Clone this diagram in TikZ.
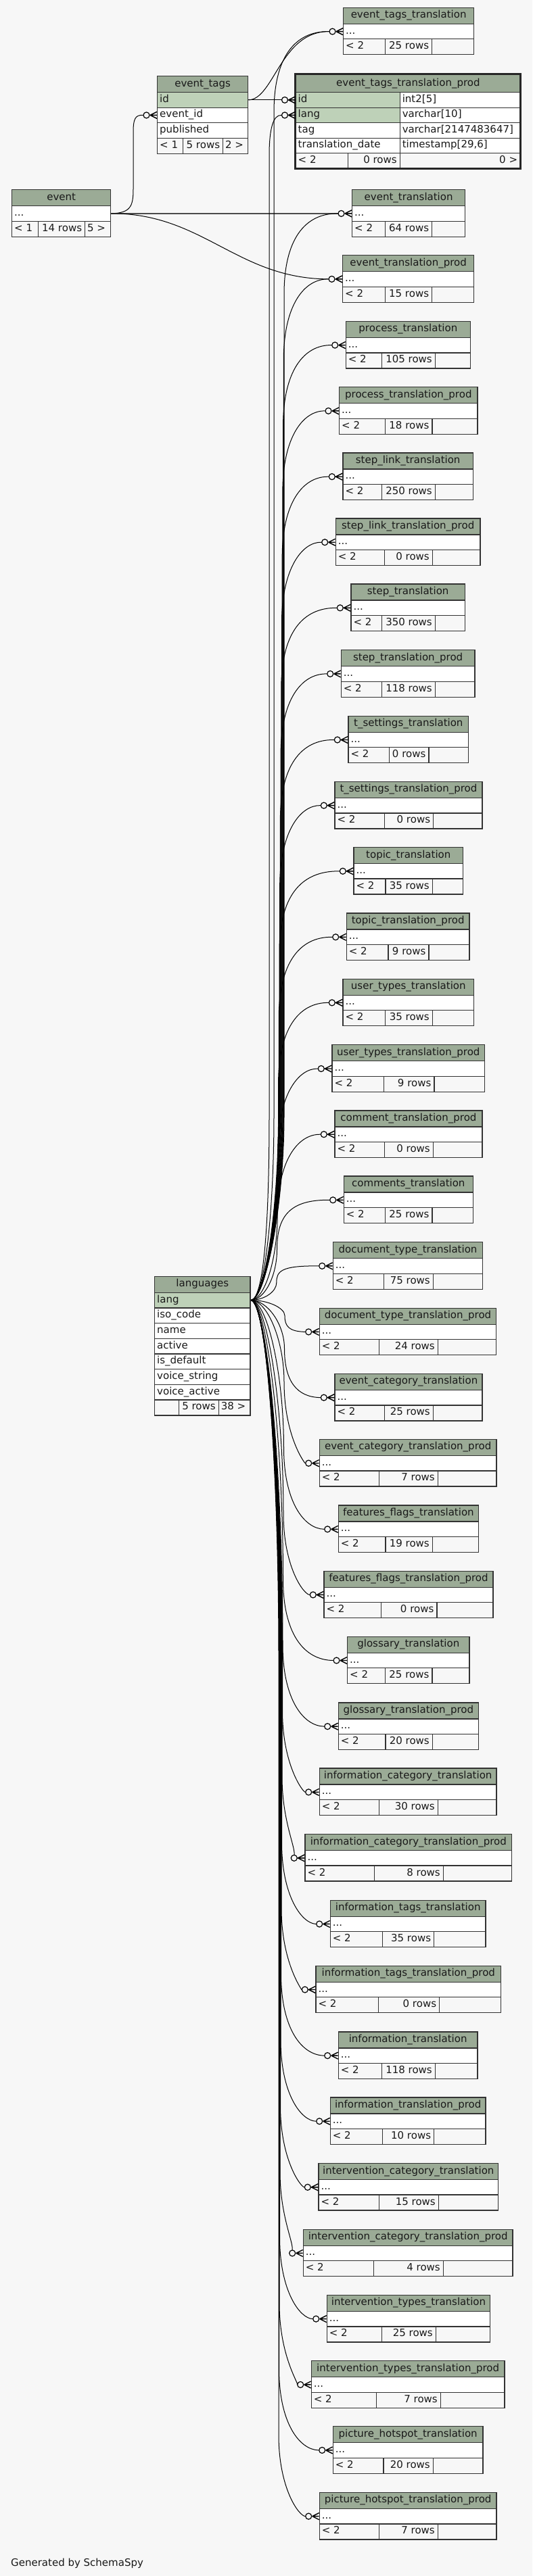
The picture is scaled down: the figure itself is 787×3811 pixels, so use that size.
\documentclass[tikz,border=0pt]{standalone}
\usepackage{fontspec}
\setmainfont{DejaVu Sans}
\usetikzlibrary{calc}
\definecolor{bgc}{HTML}{F7F7F7}
\definecolor{hdrc}{HTML}{9BAB96}
\definecolor{keyc}{HTML}{BED1B8}
\definecolor{bord}{HTML}{333333}
\pgfdeclarelayer{bgl}\pgfdeclarelayer{edges}
\pgfsetlayers{bgl,edges,main}
\newcommand{\tabfont}{\fontsize{15pt}{18pt}\selectfont}
\tikzset{
 cellbase/.style={draw=bord, line width=1.3pt, inner sep=0pt, anchor=north west},
 hdr/.style={cellbase, fill=hdrc, minimum height=24pt, font=\tabfont, text height=10.5pt, text depth=3.5pt, text=black!90},
 rowc/.style={cellbase, fill=white, minimum height=22.5pt},
 keyrow/.style={cellbase, fill=keyc, minimum height=22.5pt},
 ftc/.style={cellbase, fill=bgc, minimum height=23pt},
 txt/.style={inner sep=0pt, text height=10.5pt, text depth=3.5pt, font=\tabfont, text=black!90},
 ltxt/.style={txt, anchor=west, xshift=4pt},
 rtxt/.style={txt, anchor=east, xshift=-5pt},
 rel/.style={draw=black, line width=1pt},
 relg/.style={draw=black!70, line width=1.6pt},
 crowl/.style={draw=black, line width=1.4pt},
}
\newcommand{\crow}[1]{%
 \draw[crowl] ([xshift=-10pt]#1) -- ([yshift=5pt]#1)
   ([xshift=-10pt]#1) -- (#1)
   ([xshift=-10pt]#1) -- ([yshift=-5pt]#1);
 \draw[crowl, line width=1.2pt, fill=bgc] ([xshift=-15.5pt]#1) circle[radius=4.5pt];
}
\newcommand{\ttab}[8]{%
 \pgfmathsetmacro\qW{#3-#2}%
 \pgfmathsetmacro\qWa{#6-#2}%
 \pgfmathsetmacro\qWb{#7-#6}%
 \pgfmathsetmacro\qWc{#3-#7}%
 \pgfmathsetmacro\qYr{#4+24}%
 \pgfmathsetmacro\qYf{#4+46.5}%
 \node[hdr, minimum width=\qW pt] (#1h) at (#2,#4) {#5};
 \node[rowc, minimum width=\qW pt] (#1r) at (#2,\qYr) {};
 \node[ltxt] (#1rt) at (#1r.west) {...};
 \node[ftc, minimum width=\qWa pt] (#1fa) at (#2,\qYf) {};
 \node[ftc, minimum width=\qWb pt] (#1fb) at (#6,\qYf) {};
 \node[ftc, minimum width=\qWc pt] (#1fc) at (#7,\qYf) {};
 \node[ltxt] (#1fat) at (#1fa.west) {< 2};
 \node[rtxt] (#1fbt) at (#1fb.east) {#8};
 \crow{#1r.west}%
}
\newcommand{\upedge}[3]{%
 \pgfmathsetmacro\qYc{#3+35.25}%
 \pgfmathsetmacro\qDd{min(120,0.5*(1923-\qYc))}%
 \pgfmathsetmacro\qYa{\qYc+\qDd}%
 \pgfmathsetmacro\qYb{\qYc+\qDd/3}%
 \pgfmathsetmacro\qYm{max(1650,\qYa)}%
 \pgfmathsetmacro\qYn{1923-0.5*(1923-\qYm)}%
 \pgfmathsetmacro\qXb{#2+0.25*\qDd}%
 \draw[rel] (L.east) .. controls (392,1923) and (#2,\qYn) .. (#2,\qYm) -- (#2,\qYa) .. controls (#2,\qYb) and (\qXb,\qYc) .. ([xshift=-20.5pt]#1.west);%
}
\newcommand{\downedge}[3]{%
 \pgfmathsetmacro\qYc{#3+35.25}%
 \pgfmathsetmacro\qDd{min(120,0.5*(\qYc-1923))}%
 \pgfmathsetmacro\qYa{\qYc-\qDd}%
 \pgfmathsetmacro\qYb{\qYc-\qDd/3}%
 \pgfmathsetmacro\qYm{min(2450,\qYa)}%
 \pgfmathsetmacro\qYn{1923+0.5*(\qYm-1923)}%
 \pgfmathsetmacro\qXb{#2+0.25*\qDd}%
 \draw[rel] (L.east) .. controls (395,1923) and (#2,\qYn) .. (#2,\qYm) -- (#2,\qYa) .. controls (#2,\qYb) and (\qXb,\qYc) .. ([xshift=-20.5pt]#1.west);%
}
\begin{document}
\begin{tikzpicture}[x=1pt,y=-1pt]
\useasboundingbox (0,0) rectangle (787,3811);
\begin{pgfonlayer}{bgl}
\fill[bgc] (0,0) rectangle (787,3811);
\end{pgfonlayer}

% ---------- event ----------
\node[hdr, minimum width=146pt] (evh) at (17,280) {event};
\node[rowc, minimum width=146pt] (evr) at (17,304) {};
\node[ltxt] (evrt) at (evr.west) {...};
\node[ftc, minimum width=39pt] (evfa) at (17,326.5) {};
\node[ftc, minimum width=69pt] (evfb) at (56,326.5) {};
\node[ftc, minimum width=38pt] (evfc) at (125,326.5) {};
\node[ltxt] (evfat) at (evfa.west) {< 1};
\node[rtxt] (evfbt) at (evfb.east) {14 rows};
\node[ltxt] (evfct) at (evfc.west) {5 >};

% ---------- event_tags ----------
\node[hdr, minimum width=134pt] (eth) at (232,112) {event\_tags};
\node[keyrow, minimum width=134pt] (etid) at (232,136) {};
\node[ltxt] (etidt) at (etid.west) {id};
\node[rowc, minimum width=134pt] (eteid) at (232,158.5) {};
\node[ltxt] (eteidt) at (eteid.west) {event\_id};
\node[rowc, minimum width=134pt] (etpub) at (232,181) {};
\node[ltxt] (etpubt) at (etpub.west) {published};
\node[ftc, minimum width=38pt] (etfa) at (232,203.5) {};
\node[ftc, minimum width=59pt] (etfb) at (270,203.5) {};
\node[ftc, minimum width=37pt] (etfc) at (329,203.5) {};
\node[ltxt] (etfat) at (etfa.west) {< 1};
\node[rtxt] (etfbt) at (etfb.east) {5 rows};
\node[ltxt] (etfct) at (etfc.west) {2 >};
\crow{eteid.west}

% ---------- event_tags_translation_prod ----------
\node[hdr, minimum width=332.5pt, minimum height=26pt] (etph) at (436.5,110) {event\_tags\_translation\_prod};
\node[keyrow, minimum width=154.1pt] (etpid) at (436.5,136) {};
\node[rowc, minimum width=178.4pt] (etpidty) at (590.6,136) {};
\node[ltxt] (etpidt) at (etpid.west) {id};
\node[ltxt] (etpidtyt) at (etpidty.west) {int2[5]};
\node[keyrow, minimum width=154.1pt] (etplang) at (436.5,158.5) {};
\node[rowc, minimum width=178.4pt] (etplangty) at (590.6,158.5) {};
\node[ltxt] (etplangt) at (etplang.west) {lang};
\node[ltxt] (etplangtyt) at (etplangty.west) {varchar[10]};
\node[rowc, minimum width=154.1pt] (etptag) at (436.5,181) {};
\node[rowc, minimum width=178.4pt] (etptagty) at (590.6,181) {};
\node[ltxt] (etptagt) at (etptag.west) {tag};
\node[ltxt] (etptagtyt) at (etptagty.west) {varchar[2147483647]};
\node[rowc, minimum width=154.1pt] (etpdate) at (436.5,203.5) {};
\node[rowc, minimum width=178.4pt] (etpdatety) at (590.6,203.5) {};
\node[ltxt] (etpdatet) at (etpdate.west) {translation\_date};
\node[ltxt] (etpdatetyt) at (etpdatety.west) {timestamp[29,6]};
\node[ftc, minimum width=77.5pt] (etpfa) at (436.5,226) {};
\node[ftc, minimum width=76.6pt] (etpfb) at (514,226) {};
\node[ftc, minimum width=178.4pt] (etpfc) at (590.6,226) {};
\node[ltxt] (etpfat) at (etpfa.west) {< 2};
\node[rtxt] (etpfbt) at (etpfb.east) {0 rows};
\node[rtxt] (etpfct) at (etpfc.east) {0 >};
\draw[line width=3pt, draw=black!85] (436.5,109.5) rectangle (769,249);
\crow{etpid.west}
\crow{etplang.west}

% ---------- languages ----------
\node[hdr, minimum width=141.3pt] (lh) at (228,1887.7) {languages};
\node[keyrow, minimum width=141.3pt, minimum height=22.65pt] (L) at (228,1911.7) {};
\node[ltxt] (Lt) at (L.west) {lang};
\node[rowc, minimum width=141.3pt, minimum height=22.65pt] (liso) at (228,1934.35) {};
\node[ltxt] (lisot) at (liso.west) {iso\_code};
\node[rowc, minimum width=141.3pt, minimum height=22.65pt] (lname) at (228,1957) {};
\node[ltxt] (lnamet) at (lname.west) {name};
\node[rowc, minimum width=141.3pt, minimum height=22.65pt] (lact) at (228,1979.65) {};
\node[ltxt] (lactt) at (lact.west) {active};
\node[rowc, minimum width=141.3pt, minimum height=22.65pt] (ldef) at (228,2002.3) {};
\node[ltxt] (ldeft) at (ldef.west) {is\_default};
\node[rowc, minimum width=141.3pt, minimum height=22.65pt] (lvs) at (228,2024.95) {};
\node[ltxt] (lvst) at (lvs.west) {voice\_string};
\node[rowc, minimum width=141.3pt, minimum height=22.65pt] (lva) at (228,2047.6) {};
\node[ltxt] (lvat) at (lva.west) {voice\_active};
\node[ftc, minimum width=36pt] (lfa) at (228,2070.25) {};
\node[ftc, minimum width=58.6pt] (lfb) at (264,2070.25) {};
\node[ftc, minimum width=46.7pt] (lfc) at (322.6,2070.25) {};
\node[rtxt] (lfbt) at (lfb.east) {5 rows};
\node[ltxt] (lfct) at (lfc.west) {38 >};

% ---------- translation tables ----------
\ttab{t1}{507}{700}{10.7}{event\_tags\_translation}{569}{638}{25 rows}
\ttab{t2}{520}{687}{280}{event\_translation}{569}{638}{64 rows}
\ttab{t3}{506}{700}{377}{event\_translation\_prod}{569}{638}{15 rows}
\ttab{t4}{510.7}{694.7}{474.7}{process\_translation}{563.7}{642.7}{105 rows}
\ttab{t5}{501}{705.3}{572}{process\_translation\_prod}{569}{638.3}{18 rows}
\ttab{t6}{506.3}{698.7}{669.3}{step\_link\_translation}{563.7}{642.7}{250 rows}
\ttab{t7}{495.7}{709.3}{766.3}{step\_link\_translation\_prod}{567.7}{638.7}{0 rows}
\ttab{t8}{518.3}{686.7}{863.4}{step\_translation}{563.7}{642.7}{350 rows}
\ttab{t9}{503.7}{701.3}{961}{step\_translation\_prod}{563.7}{642.7}{118 rows}
\ttab{t10}{514.3}{692}{1058.6}{t\_settings\_translation}{574.7}{633.3}{0 rows}
\ttab{t11}{494.3}{712.3}{1155.7}{t\_settings\_translation\_prod}{568}{640}{0 rows}
\ttab{t12}{522.3}{684}{1252.9}{topic\_translation}{569.3}{638.7}{35 rows}
\ttab{t13}{511.7}{693.3}{1350.4}{topic\_translation\_prod}{573.3}{633.3}{9 rows}
\ttab{t14}{506.3}{700}{1447.5}{user\_types\_translation}{569}{638.7}{35 rows}
\ttab{t15}{490.3}{716}{1545.1}{user\_types\_translation\_prod}{566.7}{641.3}{9 rows}
\ttab{t16}{494.3}{712.3}{1642.3}{comment\_translation\_prod}{567.7}{639.7}{0 rows}
\ttab{t17}{507.7}{698.7}{1739.4}{comments\_translation}{569}{638.3}{25 rows}
\ttab{t18}{491.7}{713}{1837}{document\_type\_translation}{566.7}{639.7}{75 rows}
\ttab{t19}{471.7}{733}{1934.5}{document\_type\_translation\_prod}{559.7}{646.7}{24 rows}
\ttab{t20}{494.3}{712.3}{2031.7}{event\_category\_translation}{568}{639.7}{25 rows}
\ttab{t21}{471.7}{733.3}{2128.8}{event\_category\_translation\_prod}{559.7}{646.7}{7 rows}
\ttab{t22}{499.7}{706.7}{2226.4}{features\_flags\_translation}{569.3}{638.7}{19 rows}
\ttab{t23}{478.3}{728.3}{2323.5}{features\_flags\_translation\_prod}{562.7}{645.3}{0 rows}
\ttab{t24}{513}{693.3}{2420.6}{glossary\_translation}{569}{638.3}{25 rows}
\ttab{t25}{499.7}{706.7}{2518.2}{glossary\_translation\_prod}{569.3}{638.7}{20 rows}
\ttab{t26}{471.7}{733.3}{2615.4}{information\_category\_translation}{559.7}{646.7}{30 rows}
\ttab{t27}{450.3}{756}{2712.9}{information\_category\_translation\_prod}{553}{654.7}{8 rows}
\ttab{t28}{487.7}{717.3}{2810.5}{information\_tags\_translation}{565}{641}{35 rows}
\ttab{t29}{466.3}{740}{2907.6}{information\_tags\_translation\_prod}{558.7}{649}{0 rows}
\ttab{t30}{499.7}{705.3}{3005.2}{information\_translation}{563.7}{642.7}{118 rows}
\ttab{t31}{487.7}{717.3}{3102.3}{information\_translation\_prod}{565}{641}{10 rows}
\ttab{t32}{470.3}{736}{3199.9}{intervention\_category\_translation}{559.7}{647.7}{15 rows}
\ttab{t33}{447.7}{757.3}{3297.5}{intervention\_category\_translation\_prod}{551.7}{654.7}{4 rows}
\ttab{t34}{482.7}{724}{3394.7}{intervention\_types\_translation}{563.7}{643.7}{25 rows}
\ttab{t35}{459.7}{745.3}{3492}{intervention\_types\_translation\_prod}{555.7}{650.7}{7 rows}
\ttab{t36}{491.7}{713.3}{3589}{picture\_hotspot\_translation}{566.3}{639.7}{20 rows}
\ttab{t37}{471.7}{733.3}{3686.7}{picture\_hotspot\_translation\_prod}{559.7}{646.7}{7 rows}

\node[txt, anchor=west] (gen) at (16,3793) {Generated by SchemaSpy};

% ---------- connectors ----------
\begin{pgfonlayer}{edges}
\draw[rel] (etid.east) .. controls (405,147.25) and (415,45.95) .. ([xshift=-20.5pt]t1r.west);
\draw[rel] (etid.east) -- ([xshift=-20.5pt]etpid.west);
\draw[rel] (evr.east) .. controls (193,315.25) and (197,305) .. (197,280) -- (197,195) .. controls (197,176) and (200,169.75) .. ([xshift=-20.5pt]eteid.west);
\draw[relg] (evr.east) -- ([xshift=-20.5pt]t2r.west);
\draw[rel] (evr.east) .. controls (300,315.25) and (350,412.25) .. ([xshift=-20.5pt]t3r.west);
\draw[rel] (L.east) .. controls (392,1923) and (398,1786) .. (398,1650) -- (398,230) .. controls (398,190) and (404,169.75) .. ([xshift=-20.5pt]etplang.west);
\upedge{t1r}{405}{10.7}
\upedge{t2r}{420}{280}
\upedge{t3r}{419.3}{377}
\upedge{t4r}{418.6}{474.7}
\upedge{t5r}{417.9}{572}
\upedge{t6r}{417.2}{669.3}
\upedge{t7r}{416.5}{766.3}
\upedge{t8r}{415.8}{863.4}
\upedge{t9r}{415.1}{961}
\upedge{t10r}{414.4}{1058.6}
\upedge{t11r}{413.7}{1155.7}
\upedge{t12r}{413}{1252.9}
\upedge{t13r}{412.3}{1350.4}
\upedge{t14r}{411.6}{1447.5}
\upedge{t15r}{410.9}{1545.1}
\upedge{t16r}{410.2}{1642.3}
\upedge{t17r}{409.5}{1739.4}
\upedge{t18r}{408.8}{1837}
\downedge{t19r}{421}{1934.5}
\downedge{t20r}{420.5}{2031.7}
\downedge{t21r}{420}{2128.8}
\downedge{t22r}{419.5}{2226.4}
\downedge{t23r}{419}{2323.5}
\downedge{t24r}{418.5}{2420.6}
\downedge{t25r}{418}{2518.2}
\downedge{t26r}{417.5}{2615.4}
\downedge{t27r}{417}{2712.9}
\downedge{t28r}{416.5}{2810.5}
\downedge{t29r}{416}{2907.6}
\downedge{t30r}{415.5}{3005.2}
\downedge{t31r}{415}{3102.3}
\downedge{t32r}{414.5}{3199.9}
\downedge{t33r}{414}{3297.5}
\downedge{t34r}{413.5}{3394.7}
\downedge{t35r}{413}{3492}
\downedge{t36r}{412.5}{3589}
\downedge{t37r}{412}{3686.7}
\end{pgfonlayer}
\end{tikzpicture}
\end{document}
